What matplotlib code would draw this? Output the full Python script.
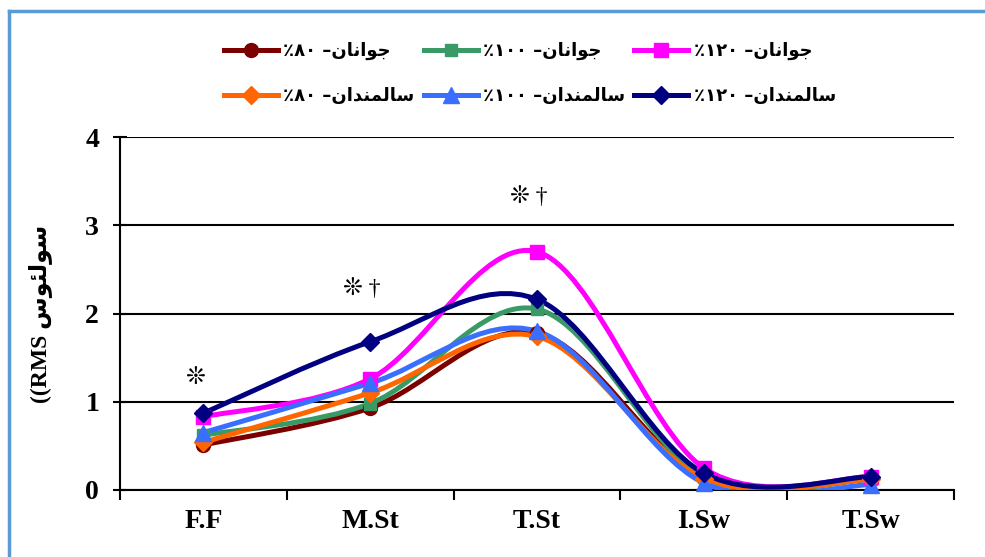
import matplotlib
matplotlib.use('Agg')
import matplotlib.pyplot as plt
import numpy as np
from matplotlib.path import Path
from matplotlib.patches import PathPatch
from matplotlib.lines import Line2D

# categories and values
categories = ['F.F', 'M.St', 'T.St', 'I.Sw', 'T.Sw']
young_80 = [0.51, 0.93, 1.78, 0.14, 0.12]
young_100 = [0.62, 0.98, 2.05, 0.15, 0.12]
young_120 = [0.83, 1.26, 2.70, 0.25, 0.15]
old_80 = [0.54, 1.10, 1.74, 0.13, 0.12]
old_100 = [0.65, 1.21, 1.80, 0.08, 0.06]
old_120 = [0.87, 1.68, 2.16, 0.19, 0.15]

groups = ['جوانان', 'جوانان', 'جوانان', 'سالمندان', 'سالمندان', 'سالمندان']
percents = ['۸۰', '۱۰۰', '۱۲۰', '۸۰', '۱۰۰', '۱۲۰']
ylabel_word = 'سولئوس'

# star / dagger annotations (category index, y, text)
note_x = [0, 1, 2]
note_y = [1.27, 2.27, 3.32]
note_txt = ['❊', '❊ †', '❊ †']

# presentation forms: isolated, final, initial, medial
FORMS = {
    'ا': ('\ufe8d', '\ufe8e', None, None),
    'د': ('\ufea9', '\ufeaa', None, None),
    'و': ('\ufeed', '\ufeee', None, None),
    'ج': ('\ufe9d', '\ufe9e', '\ufe9f', '\ufea0'),
    'س': ('\ufeb1', '\ufeb2', '\ufeb3', '\ufeb4'),
    'ل': ('\ufedd', '\ufede', '\ufedf', '\ufee0'),
    'م': ('\ufee1', '\ufee2', '\ufee3', '\ufee4'),
    'ن': ('\ufee5', '\ufee6', '\ufee7', '\ufee8'),
    'ئ': ('\ufe89', '\ufe8a', '\ufe8b', '\ufe8c'),
}


def dual(c):
    return c in FORMS and FORMS[c][2] is not None


def shape(word):
    """Crude Arabic shaping + reversal so matplotlib shows it right."""
    out = []
    for i, c in enumerate(word):
        f = FORMS[c]
        prev_joins = i > 0 and dual(word[i - 1])
        next_joins = dual(c) and i + 1 < len(word) and word[i + 1] in FORMS
        if prev_joins and next_joins:
            out.append(f[3])
        elif prev_joins:
            out.append(f[1])
        elif next_joins:
            out.append(f[2])
        else:
            out.append(f[0])
    return ''.join(out)[::-1]


series = [young_80, young_100, young_120, old_80, old_100, old_120]
colors = ['#7B0000', '#3A9A66', '#FF00FF', '#FF6600', '#3A6EFF', '#000080']
markers = ['o', 's', 's', 'D', '^', 'D']
msizes = [10, 9, 10, 9, 11, 9]


def smooth_path(xs, ys):
    # Excel-style smoothed line as cubic bezier segments
    pts = np.column_stack([xs, ys])
    n = len(pts)
    verts = [pts[0]]
    codes = [Path.MOVETO]
    for i in range(n - 1):
        p0 = pts[max(i - 1, 0)]
        p1 = pts[i]
        p2 = pts[i + 1]
        p3 = pts[min(i + 2, n - 1)]
        verts += [p1 + (p2 - p0) / 6, p2 - (p3 - p1) / 6, p2]
        codes += [Path.CURVE4] * 3
    return Path(verts, codes)


fig = plt.figure(figsize=(9.85, 5.57), dpi=100)
ax = fig.add_axes([0.1218, 0.1203, 0.8467, 0.6337])

x = np.arange(len(categories))
handles = []
for vals, col, mk, ms, g, p in zip(series, colors, markers, msizes, groups, percents):
    patch = PathPatch(smooth_path(x, vals), facecolor='none', edgecolor=col,
                      lw=3.6, capstyle='round', joinstyle='round', zorder=3)
    ax.add_patch(patch)
    ax.plot(x, vals, linestyle='none', marker=mk, ms=ms, color=col, zorder=4,
            clip_on=False)
    handles.append(Line2D([], [], color=col, lw=3.6, marker=mk, ms=ms,
                          label='٪' + p + ' –' + shape(g)))

ax.set_xlim(-0.5, 4.5)
ax.set_ylim(0, 4)
ax.set_yticks([0, 1, 2, 3, 4])
ax.set_yticklabels(['0', '1', '2', '3', '4'])
ax.set_xticks(x)
ax.set_xticklabels(categories)
ax.set_xticks(np.arange(-0.5, 5, 1), minor=True)
ax.tick_params(axis='x', which='major', length=0, pad=14)
ax.tick_params(axis='x', which='minor', length=7, width=1.5, direction='out')
ax.tick_params(axis='y', length=10, width=1.5, direction='inout', pad=10)
for lab in ax.get_xticklabels() + ax.get_yticklabels():
    lab.set_fontfamily('Liberation Serif')
    lab.set_fontweight('bold')
    lab.set_fontsize(20)

ax.grid(axis='y', color='black', lw=1.5)
ax.set_axisbelow(True)
ax.spines['top'].set_visible(False)
ax.spines['right'].set_visible(False)
ax.spines['left'].set_linewidth(1.5)
ax.spines['bottom'].set_linewidth(1.5)

ax.set_ylabel('((RMS ' + shape(ylabel_word), fontsize=17, fontweight='bold',
              family=['Liberation Serif', 'DejaVu Sans'], labelpad=24)

for nx, ny, t in zip(note_x, note_y, note_txt):
    ax.text(nx - 0.05, ny, t, ha='center', va='center', fontsize=17,
            family=['Liberation Serif', 'DejaVu Sans'], zorder=5)

order = [0, 3, 1, 4, 2, 5]
leg = fig.legend([handles[i] for i in order], [handles[i].get_label() for i in order],
                 ncol=3, loc='center', bbox_to_anchor=(0.538, 0.868), frameon=False,
                 prop={'family': 'DejaVu Sans', 'weight': 'bold', 'size': 13},
                 handlelength=3.0, handletextpad=0.3, columnspacing=0.5,
                 labelspacing=1.5, markerfirst=True)

# light blue chart-area border (only top and left visible)
border_kw = dict(color='#5B9BD5', lw=2.5, transform=fig.transFigure)
fig.lines.append(Line2D([8.5 / 985, 1.0], [1 - 11 / 557] * 2, **border_kw))
fig.lines.append(Line2D([8.5 / 985] * 2, [0, 1 - 11 / 557], **border_kw))

fig.savefig('out.png', dpi=100)
